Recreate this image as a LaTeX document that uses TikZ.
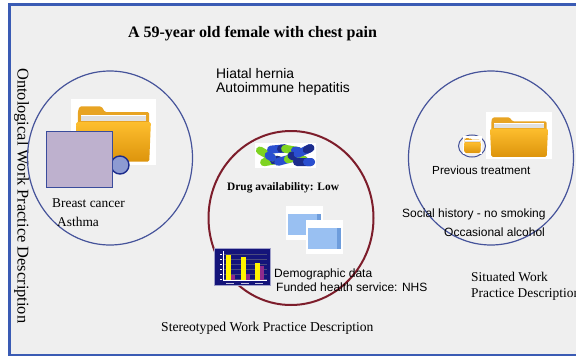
\documentclass[tikz,border=0pt]{standalone}
\usepackage{fontspec}
\setmainfont{Liberation Serif}
\setsansfont{Liberation Sans}
\usetikzlibrary{shapes.geometric}
\definecolor{frameblue}{HTML}{3A5BB4}
\definecolor{panelgray}{HTML}{EFEFEF}
\definecolor{ringblue}{HTML}{45539A}
\definecolor{ringred}{HTML}{7D1D2B}
\definecolor{foldertop}{HTML}{FDBE2E}
\definecolor{folderbot}{HTML}{DD940C}
\definecolor{folderback}{HTML}{E8A423}
\definecolor{lavender}{HTML}{BEB1CE}
\definecolor{boxedge}{HTML}{3A4C9C}
\definecolor{dotblue}{HTML}{8D9BD2}
\definecolor{pillgreen}{HTML}{7ED321}
\definecolor{pillblue}{HTML}{2A4FD0}
\definecolor{pillnavy}{HTML}{1C2C8C}
\definecolor{chartnavy}{HTML}{14147A}
\definecolor{barpurple}{HTML}{8E2A8C}
\definecolor{docblue}{HTML}{99C0F2}
\definecolor{docedge}{HTML}{6E9DDC}

\begin{document}
\begin{tikzpicture}[
  x=1pt, y=-1pt,
  ring/.style={ellipse, minimum width=165pt, minimum height=174pt, line width=1.2pt, draw=ringblue},
  serif/.style={inner sep=0, anchor=base west, font=\fontsize{13.4}{16}\selectfont},
  sans/.style={inner sep=0, anchor=base west, font=\sffamily\fontsize{12}{14}\selectfont},
  pics/folder/.style={code={
    \fill[white] (0,0) rectangle (100,80);
    \fill[folderback, rounded corners=1.5] (8,16) -- (10,9) -- (36,9) -- (40,16) -- (92,16) -- (92,72) -- (8,72) -- cycle;
    \fill[black!12] (12,19) rectangle (88,27);
    \fill[white] (12,19) rectangle (88,21);
    \shade[top color=foldertop, bottom color=folderbot, rounded corners=1.5] (6,28) -- (94,28) -- (92,76) -- (8,76) -- cycle;
  }},
  pics/sheet/.style={code={
    \fill[white] (0,0) rectangle (37,34);
    \fill[docblue] (2,8) rectangle (35,29);
    \fill[docedge] (31,8) rectangle (35,29);
  }},
  pics/capsule/.style 2 args={code={
    \fill[#1, rounded corners=4] (-11,-4) rectangle (11,4);
    \fill[#2, rounded corners=4] (-1,-4) rectangle (11,4);
  }}
]
\useasboundingbox (0,0) rectangle (576,356);
\clip (0,0) rectangle (576,356);
\draw[frameblue, line width=3pt, fill=panelgray] (9.5,4.5) rectangle (600,355);

\node[inner sep=0, anchor=base, font=\fontsize{16}{19}\selectfont\bfseries] (title) at (252.5,37) {A 59-year old female with chest pain};
\node[serif, rotate=-90, font=\fontsize{16.4}{19}\selectfont] (ontolabel) at (17.5,68) {Ontological Work Practice Description};

% ontological side
\node[ring] (onto) at (110,158) {};
\pic[xscale=.85, yscale=.825] (ofolder) at (71,99) {folder};
\node[circle, minimum size=18pt, inner sep=0, fill=dotblue, draw=pillnavy, line width=1.4pt] (odot) at (120,165) {};
\node[rectangle, anchor=north west, minimum width=66pt, minimum height=56pt, inner sep=0, fill=lavender, draw=boxedge, line width=1pt] (obox) at (46,131) {};
\node[serif] (breast) at (52,207) {Breast cancer};
\node[serif] (asthma) at (57,226) {Asthma};

\node[sans, font=\sffamily\fontsize{13.9}{15}\selectfont] (hiatal) at (216,78) {Hiatal hernia};
\node[sans, font=\sffamily\fontsize{13.9}{15}\selectfont] (hepatitis) at (216,92) {Autoimmune hepatitis};

% stereotyped middle
\node[ring, draw=ringred, line width=2pt] (stereo) at (291,218) {};
\fill[white] (255,143) rectangle (316,168);
\pic[rotate=10] (pill1) at (271,161) {capsule={pillgreen}{pillnavy}};
\pic[rotate=-30] (pill2) at (266,154) {capsule={pillgreen}{pillblue}};
\pic[rotate=5] (pill3) at (278,149) {capsule={pillblue}{pillnavy}};
\pic[rotate=-10] (pill4) at (292,150) {capsule={pillgreen}{pillblue}};
\pic[rotate=15] (pill5) at (285,160) {capsule={pillblue}{pillgreen}};
\pic[rotate=-20] (pill6) at (298,158) {capsule={pillnavy}{pillgreen}};
\pic[rotate=25] (pill7) at (304,151) {capsule={pillblue}{pillnavy}};
\pic (pill8) at (304,162) {capsule={pillnavy}{pillblue}};
\node[serif, font=\fontsize{11.4}{14}\selectfont\bfseries] (drug) at (227,190) {Drug availability: Low};
\pic (sheet1) at (286,206) {sheet};
\pic (sheet2) at (306,220) {sheet};

\fill[chartnavy] (214,248) rectangle (271,286);
\draw[white!60!chartnavy, line width=.6] (214.3,248.3) rectangle (270.7,285.7);
\foreach \y in {254,259,...,279}{
  \draw[gray!50!chartnavy, line width=.3] (223,\y) -- (267,\y);
  \fill[white] (219.5,\y) rectangle (221.5,\y+.8);
}
\draw[white, line width=.5] (223,251) -- (223,280) -- (267,280);
\foreach \xa/\ha/\hb in {226/255/275, 241/257/274, 255/263/266}{
  \fill[yellow] (\xa,\ha) rectangle (\xa+5,280);
  \fill[barpurple] (\xa+5,\hb) rectangle (\xa+9,280);
  \fill[white!75!chartnavy] (\xa,282.5) rectangle (\xa+8,283.5);
}
\node[sans] (demo) at (274,277) {Demographic data};
\node[sans] (nhs) at (276,291) {Funded health service: NHS};

% situated side
\node[ring] (situ) at (491,158) {};
\node[ellipse, draw=ringblue, line width=1pt, minimum width=27pt, minimum height=22pt, inner sep=0] (prevring) at (472,146) {};
\pic[xscale=.19, yscale=.225] (pfolder) at (463,136) {folder};
\pic[xscale=.66, yscale=.59] (sfolder) at (486,112) {folder};
\node[sans, font=\sffamily\fontsize{11.7}{14}\selectfont] (prev) at (432,174) {Previous treatment};
\node[sans] (social) at (402,217) {Social history - no smoking};
\node[sans] (alcohol) at (444,236) {Occasional alcohol};
\node[serif] (situ1) at (471,281) {Situated Work};
\node[serif] (situ2) at (471,297) {Practice Description};

\node[serif, font=\fontsize{13.6}{16}\selectfont] (stereolabel) at (161,331) {Stereotyped Work Practice Description};
\end{tikzpicture}
\end{document}
